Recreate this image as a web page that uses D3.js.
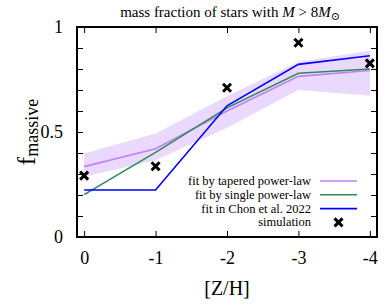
<!DOCTYPE html>
<html>
<head>
<meta charset="utf-8">
<script src="https://cdn.jsdelivr.net/npm/d3@7"></script>
<style>
  body { margin: 0; background: #fff; }
  text { font-family: "Liberation Serif", "DejaVu Serif", serif; fill: #000; }
</style>
</head>
<body>
<div class="canvas"></div>
<script>
// metallicities [Z/H]
const zh = [0, -1, -2, -3, -4];

// fits and simulation, f_massive per metallicity
const tapered = [0.335, 0.42, 0.60, 0.765, 0.793];
const taperedLow = [0.287, 0.365, 0.52, 0.70, 0.673];
const taperedHigh = [0.398, 0.493, 0.67, 0.835, 0.887];
const single = [0.202, 0.403, 0.615, 0.78, 0.80];
const chon = [0.224, 0.224, 0.625, 0.822, 0.863];
const simulation = [0.292, 0.337, 0.711, 0.925, 0.827];

const xTicks = [0, -1, -2, -3, -4];
const yTicks = [0, 0.5, 1];
const yMinor = [0.1, 0.2, 0.3, 0.4, 0.6, 0.7, 0.8, 0.9];

const w = 391;
const h = 307;
const margin = { top: 27, right: 14, bottom: 70, left: 77 };
const graphWidth = w - margin.left - margin.right;
const graphHeight = h - margin.top - margin.bottom;

const svg = d3.select(".canvas").append("svg").attr("width", w).attr("height", h);
const graph = svg.append("g").attr("transform", `translate(${margin.left}, ${margin.top})`);

const x = d3.scaleLinear().domain([0.1, -4.1]).range([0, graphWidth]);
const y = d3.scaleLinear().domain([0, 1]).range([graphHeight, 0]);

// shaded range of the tapered fit
const area = d3
  .area()
  .x((d, i) => x(zh[i]))
  .y0((d, i) => y(taperedLow[i]))
  .y1((d, i) => y(taperedHigh[i]));
graph.append("path").datum(tapered).attr("d", area).attr("fill", "#ead9fd");

const line = d3
  .line()
  .x((d, i) => x(zh[i]))
  .y((d) => y(d));

const series = [
  { name: "fit by tapered power-law", values: tapered, color: "#bd82f7" },
  { name: "fit by single power-law", values: single, color: "#2e8b57" },
  { name: "fit in Chon et al. 2022", values: chon, color: "#0000ff" },
];

series.forEach((s) => {
  graph
    .append("path")
    .datum(s.values)
    .attr("d", line)
    .attr("fill", "none")
    .attr("stroke", s.color)
    .attr("stroke-width", 1.6);
});

// crosses for the simulation
const cross = (cx, cy, r) => `M${cx - r},${cy - r}L${cx + r},${cy + r}M${cx - r},${cy + r}L${cx + r},${cy - r}`;
graph
  .selectAll(".sim")
  .data(simulation)
  .enter()
  .append("path")
  .attr("class", "sim")
  .attr("d", (d, i) => cross(x(zh[i]), y(d), 4))
  .attr("stroke", "#000")
  .attr("stroke-width", 3);

// axes: ticks point inward on all four sides, plain hyphen for minus
const tickLen = 6;
graph
  .append("g")
  .attr("transform", `translate(0, ${graphHeight})`)
  .call(d3.axisBottom(x).tickValues(xTicks).tickSize(-tickLen).tickPadding(14).tickFormat((d) => String(d)))
  .call((g) => g.select(".domain").remove())
  .call((g) => g.selectAll("text").style("font-size", "18px").style("font-family", "Liberation Serif"));
graph
  .append("g")
  .call(d3.axisTop(x).tickValues(xTicks).tickSize(-tickLen).tickFormat(""))
  .call((g) => g.select(".domain").remove());
graph
  .append("g")
  .call(d3.axisLeft(y).tickValues(yTicks.concat(yMinor)).tickSize(-tickLen).tickPadding(14)
    .tickFormat((d) => (yTicks.includes(d) ? String(d) : "")))
  .call((g) => g.select(".domain").remove())
  .call((g) => g.selectAll("text").style("font-size", "18px").style("font-family", "Liberation Serif"));
graph
  .append("g")
  .attr("transform", `translate(${graphWidth}, 0)`)
  .call(d3.axisRight(y).tickValues(yTicks.concat(yMinor)).tickSize(-tickLen).tickFormat(""))
  .call((g) => g.select(".domain").remove());

graph.selectAll(".tick line").attr("stroke", "#000").attr("stroke-width", 1);

// frame
graph
  .append("rect")
  .attr("width", graphWidth)
  .attr("height", graphHeight)
  .attr("fill", "none")
  .attr("stroke", "#000")
  .attr("stroke-width", 2);

// legend
const legend = graph.append("g");
const legendRows = series.map((s) => ({ name: s.name, color: s.color })).concat([{ name: "simulation", color: null }]);
legendRows.forEach((r, i) => {
  const ly = 154 + i * 13.8;
  legend
    .append("text")
    .attr("x", 234)
    .attr("y", ly)
    .attr("dy", "0.32em")
    .attr("text-anchor", "end")
    .style("font-size", "12.5px")
    .text(r.name);
  if (r.color) {
    legend
      .append("line")
      .attr("x1", 243)
      .attr("x2", 280)
      .attr("y1", ly)
      .attr("y2", ly)
      .attr("stroke", r.color)
      .attr("stroke-width", 1.6);
  } else {
    legend.append("path").attr("d", cross(261.5, ly, 4)).attr("stroke", "#000").attr("stroke-width", 3);
  }
});

// titles
svg
  .append("text")
  .attr("x", margin.left + graphWidth / 2 + 3)
  .attr("y", 17)
  .attr("text-anchor", "middle")
  .style("font-size", "15px")
  .html('mass fraction of stars with <tspan font-style="italic">M</tspan> &gt; 8<tspan font-style="italic">M</tspan><tspan dy="3" font-size="11px">⊙</tspan>');

svg
  .append("text")
  .attr("x", margin.left + graphWidth / 2)
  .attr("y", 295)
  .attr("text-anchor", "middle")
  .style("font-size", "20px")
  .text("[Z/H]");

svg
  .append("text")
  .attr("transform", `translate(35, ${margin.top + graphHeight / 2}) rotate(-90)`)
  .attr("text-anchor", "middle")
  .style("font-size", "25px")
  .html('f<tspan dy="3" font-size="18px">massive</tspan>');
</script>
</body>
</html>
